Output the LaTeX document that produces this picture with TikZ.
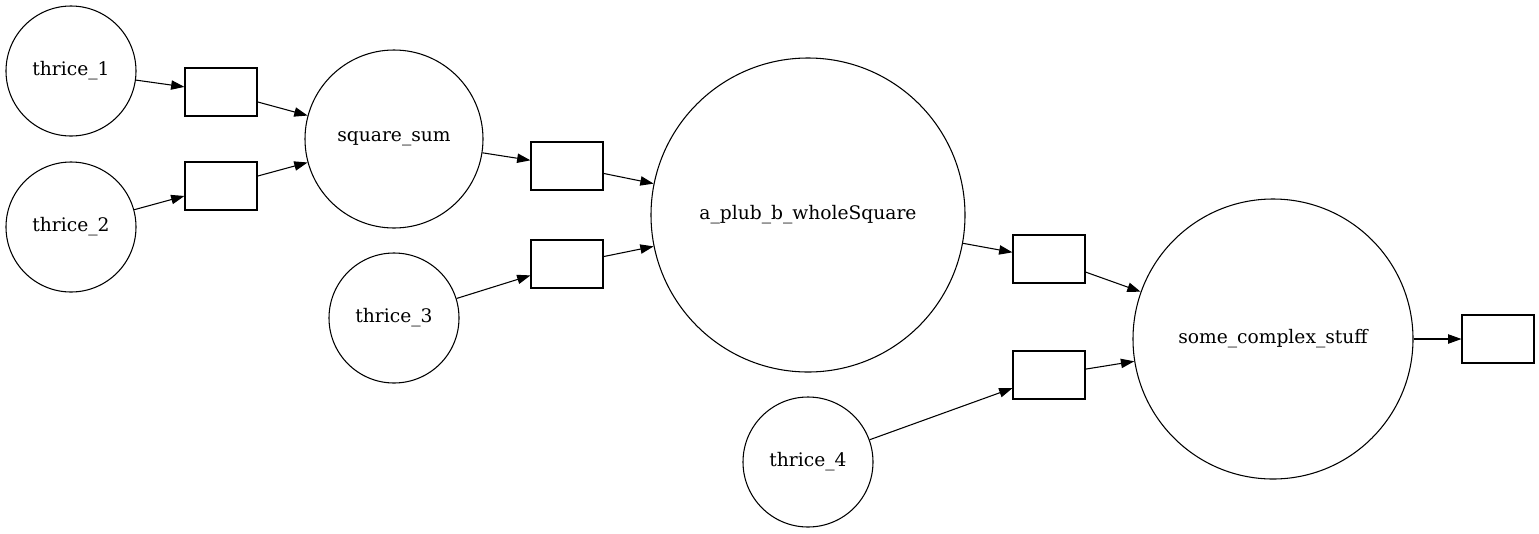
\documentclass[tikz,border=0pt]{standalone}
\usepackage{fontspec}
\setmainfont{DejaVu Serif}
\usetikzlibrary{arrows.meta}
\begin{document}
\begin{tikzpicture}[x=0.75pt,y=-0.75pt,
  every node/.style={font=\fontsize{14}{16}\selectfont, line width=0.8pt},
  op/.style={draw, circle, inner sep=0pt},
  small/.style={op, minimum size=97.5pt},
  slot/.style={draw, rectangle, minimum width=54pt, minimum height=36pt, inner sep=0pt},
  edge/.style={line width=0.8pt, -{Triangle[length=10pt,width=7pt]}}]
\useasboundingbox (0,0) rectangle (1539,533);
\node[small] (t1) at (71,71) {thrice\_1};
\node[small] (t2) at (71,227) {thrice\_2};
\node[op, minimum size=133.5pt] (ss) at (394,139) {square\_sum};
\node[small] (t3) at (394,318) {thrice\_3};
\node[op, minimum size=235.5pt] (ab) at (808,215) {a\_plub\_b\_wholeSquare};
\node[small] (t4) at (808,462) {thrice\_4};
\node[op, minimum size=210pt] (sc) at (1273,339) {some\_complex\_stuff};
\node[slot] (b1) at (221,92) {};
\node[slot] (b2) at (221,186) {};
\node[slot] (b3) at (567,166) {};
\node[slot] (b4) at (567,264) {};
\node[slot] (b5) at (1049,259) {};
\node[slot] (b6) at (1049,375) {};
\node[slot] (b7) at (1498,339) {};
\draw[edge] (t1) -- (b1);
\draw[edge] (b1) -- (ss);
\draw[edge] (t2) -- (b2);
\draw[edge] (b2) -- (ss);
\draw[edge] (ss) -- (b3);
\draw[edge] (b3) -- (ab);
\draw[edge] (t3) -- (b4);
\draw[edge] (b4) -- (ab);
\draw[edge] (ab) -- (b5);
\draw[edge] (b5) -- (sc);
\draw[edge] (t4) -- (b6);
\draw[edge] (b6) -- (sc);
\draw[edge] (sc) -- (b7);
\end{tikzpicture}
\end{document}
